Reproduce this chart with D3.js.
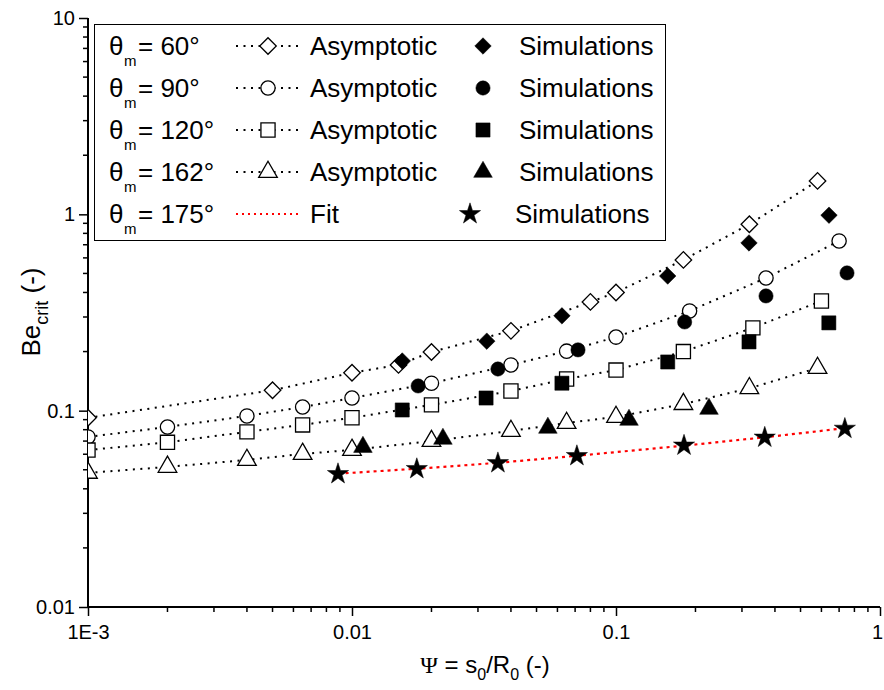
<!DOCTYPE html>
<html><head><meta charset="utf-8">
<script src="https://cdn.jsdelivr.net/npm/d3@7"></script>
<style>body{margin:0;background:#fff}svg{display:block}text{font-family:Arial,"Liberation Sans",sans-serif}</style>
</head><body><svg id="c" width="884" height="690"></svg>
<script>
// ---- data ----
const psi60A = [0.001, 0.005, 0.01, 0.015, 0.02, 0.04, 0.08, 0.1, 0.18, 0.32, 0.58];
const be60A  = [0.092, 0.127, 0.156, 0.171, 0.199, 0.255, 0.358, 0.40, 0.586, 0.89, 1.48];
const psi60S = [0.0155, 0.0324, 0.0624, 0.157, 0.319, 0.641];
const be60S  = [0.179, 0.226, 0.304, 0.485, 0.715, 0.99];

const psi90A = [0.001, 0.002, 0.004, 0.0065, 0.01, 0.02, 0.04, 0.065, 0.1, 0.19, 0.37, 0.70];
const be90A  = [0.0735, 0.0826, 0.094, 0.1044, 0.116, 0.138, 0.171, 0.201, 0.237, 0.322, 0.474, 0.732];
const psi90S = [0.0178, 0.0357, 0.0718, 0.182, 0.37, 0.75];
const be90S  = [0.1336, 0.163, 0.204, 0.283, 0.384, 0.503];

const psi120A = [0.001, 0.002, 0.004, 0.0065, 0.01, 0.02, 0.04, 0.065, 0.1, 0.18, 0.33, 0.6];
const be120A  = [0.063, 0.069, 0.078, 0.0846, 0.092, 0.107, 0.126, 0.145, 0.161, 0.20, 0.264, 0.362];
const psi120S = [0.0155, 0.0322, 0.0624, 0.157, 0.319, 0.64];
const be120S  = [0.1008, 0.116, 0.138, 0.177, 0.224, 0.28];

const psi162A = [0.001, 0.002, 0.004, 0.0065, 0.01, 0.02, 0.04, 0.065, 0.1, 0.18, 0.32, 0.58];
const be162A  = [0.0482, 0.0517, 0.0561, 0.0602, 0.0631, 0.070, 0.0788, 0.0865, 0.0929, 0.108, 0.130, 0.165];
const psi162S = [0.011, 0.0221, 0.0552, 0.112, 0.225];
const be162S  = [0.0653, 0.0718, 0.0817, 0.0897, 0.102];

const psi175S = [0.00885, 0.0176, 0.0357, 0.0711, 0.181, 0.366, 0.736];
const be175S  = [0.0476, 0.0505, 0.0541, 0.0588, 0.0665, 0.073, 0.081];
const psiFit  = [0.0089, 0.018, 0.036, 0.071, 0.18, 0.37, 0.74];
const beFit   = [0.0478, 0.0507, 0.0543, 0.0589, 0.0663, 0.0733, 0.0815];

const xTickVals = [0.001, 0.01, 0.1, 1];
const xTickLabels = ["1E-3", "0.01", "0.1", "1"];
const yTickVals = [0.01, 0.1, 1, 10];
const yTickLabels = ["0.01", "0.1", "1", "10"];
const angles = ["60°", "90°", "120°", "162°", "175°"];

// ---- layout ----
const L = 88, R = 880, T = 18, B = 607;
const svg = d3.select("#c");
const x = d3.scaleLog().domain([0.001, 1]).range([L, R]);
const y = d3.scaleLog().domain([0.01, 10]).range([B, T]);

svg.append("defs").append("clipPath").attr("id","clip")
  .append("rect").attr("x", L).attr("y", T - 10).attr("width", R - L + 10).attr("height", B - T + 10);

// minor ticks
function minors(lo, hi){ const a=[]; for(let d=lo; d<hi; d*=10) for(let k=2;k<=9;k++) a.push(d*k); return a; }
const g = svg.append("g");
g.selectAll(".xm").data(minors(0.001,1)).enter().append("line")
  .attr("x1", d=>x(d)).attr("x2", d=>x(d)).attr("y1", B).attr("y2", B+5).attr("stroke","#000").attr("stroke-width",1.5);
g.selectAll(".ym").data(minors(0.01,10)).enter().append("line")
  .attr("y1", d=>y(d)).attr("y2", d=>y(d)).attr("x1", L).attr("x2", L-5).attr("stroke","#000").attr("stroke-width",1.5);

// axes
const xAxis = d3.axisBottom(x).tickValues(xTickVals).tickFormat((d,i)=>xTickLabels[i]).tickSize(9).tickPadding(6);
const yAxis = d3.axisLeft(y).tickValues(yTickVals).tickFormat((d,i)=>yTickLabels[i]).tickSize(9).tickPadding(4);
const gx = svg.append("g").attr("transform",`translate(0,${B})`).call(xAxis);
const gy = svg.append("g").attr("transform",`translate(${L},0)`).call(yAxis);
[gx,gy].forEach(a=>{
  a.select(".domain").attr("stroke-width",2);
  a.selectAll(".tick line").attr("stroke-width",1.5);
  a.selectAll(".tick text").attr("font-size",20).attr("font-family","Arial, 'Liberation Sans', sans-serif").attr("fill","#000");
});
gx.select(".domain").attr("d",`M${L},0H${R}`);
gy.select(".domain").attr("d",`M0,${B}V${T}`);
gx.selectAll(".tick text").attr("dy","0.85em").attr("dx",(d,i)=> i===xTickVals.length-1 ? -3 : 0);

// axis titles
const xt = svg.append("text").attr("x", 485).attr("y", 673).attr("text-anchor","middle").attr("font-size",24);
xt.append("tspan").attr("font-family","'Liberation Serif', serif").text("Ψ");
xt.append("tspan").text(" = s");
xt.append("tspan").attr("font-size",16).attr("dy",7).text("0");
xt.append("tspan").attr("dy",-7).text("/R");
xt.append("tspan").attr("font-size",16).attr("dy",7).text("0");
xt.append("tspan").attr("dy",-7).text(" (-)");

const yt = svg.append("text").attr("transform","translate(40,312) rotate(-90)").attr("text-anchor","middle").attr("font-size",26);
yt.append("tspan").text("Be");
yt.append("tspan").attr("font-size",18).attr("dy",8).text("crit");
yt.append("tspan").attr("dy",-8).text(" (-)");

// symbols
const sym = {
  diamond: d3.symbol().type(d3.symbolSquare).size(136),
  circle: d3.symbol().type(d3.symbolCircle).size(160),
  square: d3.symbol().type(d3.symbolSquare).size(200),
  triangle: d3.symbol().type(d3.symbolTriangle).size(150),
  star: d3.symbol().type(d3.symbolStar).size(140)
};
function marker(sel, kind, filled){
  sel.append("path").attr("d", sym[kind]())
    .attr("transform", kind==="diamond" ? "rotate(45)" : null)
    .attr("fill", filled ? "#000" : "#fff").attr("stroke","#000").attr("stroke-width", filled?0.5:1.3);
}

const plot = svg.append("g").attr("clip-path","url(#clip)");
const line = d3.line().x(d=>x(d[0])).y(d=>y(d[1]));
const zip = (a,b)=>a.map((v,i)=>[v,b[i]]);

const asym = [
  [psi60A, be60A, "diamond"], [psi90A, be90A, "circle"], [psi120A, be120A, "square"], [psi162A, be162A, "triangle"]
];
const sims = [
  [psi60S, be60S, "diamond"], [psi90S, be90S, "circle"], [psi120S, be120S, "square"], [psi162S, be162S, "triangle"]
];

function drawPts(data, kind, filled){
  data.forEach(p=>{
    const gg = plot.append("g").attr("transform",`translate(${x(p[0])},${y(p[1])})`);
    marker(gg, kind, filled);
  });
}
asym.forEach(([px,py,k])=>{
  plot.append("path").attr("d", line(zip(px,py))).attr("fill","none").attr("stroke","#000")
    .attr("stroke-width",2).attr("stroke-dasharray","2,5.5");
});
// fit line
plot.append("path").attr("d", line(zip(psiFit,beFit))).attr("fill","none").attr("stroke","#ff0000")
  .attr("stroke-width",2.2).attr("stroke-dasharray","3,4");
asym.forEach(([px,py,k])=>drawPts(zip(px,py), k, false));
sims.forEach(([px,py,k])=>drawPts(zip(px,py), k, true));
drawPts(zip(psi175S, be175S), "star", true);

// legend
const lg = svg.append("g");
lg.append("rect").attr("x",94.5).attr("y",24.5).attr("width",571).attr("height",216)
  .attr("fill","#fff").attr("stroke","#000").attr("stroke-width",1);
const kinds = ["diamond","circle","square","triangle"];
angles.forEach((a,i)=>{
  const cy = 46 + 42*i;
  lg.append("text").attr("x",109).attr("y",cy+9).attr("font-size",26).attr("font-family","'Liberation Serif', serif").text("θ");
  lg.append("text").attr("x",124).attr("y",cy+20).attr("font-size",15).text("m");
  lg.append("text").attr("x",138).attr("y",cy+9).attr("font-size",26).text("= " + a);
  if(i<4){
    lg.append("line").attr("x1",236).attr("x2",300).attr("y1",cy).attr("y2",cy).attr("stroke","#000")
      .attr("stroke-width",2).attr("stroke-dasharray","2,5.5");
    marker(lg.append("g").attr("transform",`translate(268,${cy})`), kinds[i], false);
    lg.append("text").attr("x",310).attr("y",cy+9).attr("font-size",26).text("Asymptotic");
    marker(lg.append("g").attr("transform",`translate(483,${cy})`), kinds[i], true);
    lg.append("text").attr("x",519).attr("y",cy+9).attr("font-size",26).text("Simulations");
  } else {
    lg.append("line").attr("x1",236).attr("x2",300).attr("y1",cy).attr("y2",cy).attr("stroke","#ff0000")
      .attr("stroke-width",2).attr("stroke-dasharray","2,4");
    lg.append("text").attr("x",310).attr("y",cy+9).attr("font-size",26).text("Fit");
    marker(lg.append("g").attr("transform",`translate(470,${cy})`), "star", true);
    lg.append("text").attr("x",515).attr("y",cy+9).attr("font-size",26).text("Simulations");
  }
});
</script></body></html>
